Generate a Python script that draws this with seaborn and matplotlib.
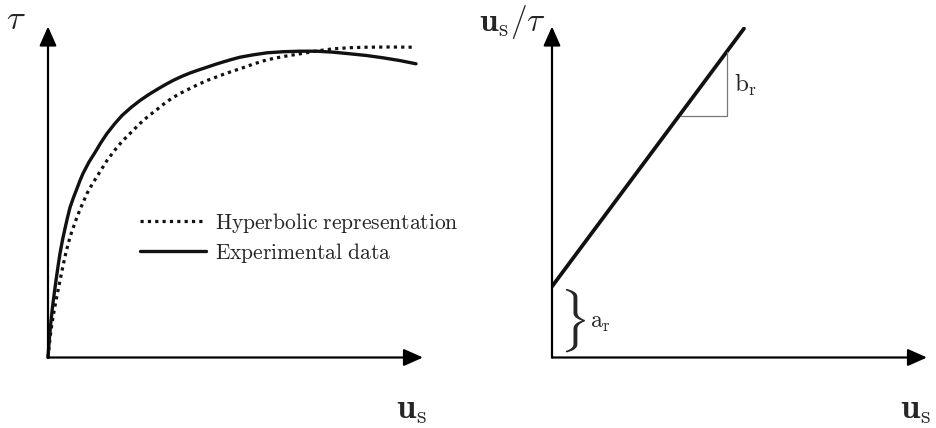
import matplotlib
matplotlib.use("Agg")
import matplotlib.pyplot as plt
import seaborn as sns

# Shear stress vs. slip, arbitrary units
exp_u = [0, 1, 2, 3, 4, 5, 6.5, 8, 10, 12, 14.5, 17, 19.5, 22, 25.5, 29, 32, 35,
         41, 47, 53, 59, 66.5, 74, 83, 92, 100.5, 109, 117, 125, 133.5, 142,
         150.5, 159, 167, 175, 183.5, 192, 205.5, 219, 235.5, 252, 269, 285.5,
         302, 318.5, 335, 351.5, 368]
exp_tau = [0, 14, 26, 36.5, 46, 54.5, 66, 77, 91, 104, 117.5, 129, 140, 150,
           160, 169, 177, 184, 195.5, 205, 215, 224, 233.5, 242, 250, 257,
           262.8, 268, 272.7, 277, 281, 284.5, 287.5, 290.3, 293, 295.5, 298,
           300.3, 302.7, 304.7, 305.8, 306.3, 306.3, 305.3, 303.7, 302, 299.7,
           297, 293.7]

hyp_u = [0, 1, 2, 3, 4, 5, 7, 9, 11, 13, 15.3, 17.5, 20, 22.5, 25.3, 28.5, 32,
         35.5, 39, 44, 49, 54, 59, 66.5, 74, 83, 92, 100.5, 109, 117, 125,
         133.5, 142, 150.5, 159, 167, 175, 183.5, 192, 205.5, 219, 235.5, 252,
         268.5, 285, 302, 319, 341, 364]
hyp_tau = [0, 10, 19, 27, 34, 40.5, 51.5, 62, 72, 82, 93, 103, 113, 122, 130,
           139, 148, 156, 164, 173, 181, 189, 197, 207, 216, 225, 234, 241.5,
           248, 254.5, 260, 264.8, 269, 273.2, 277, 280, 283, 286, 288.7,
           293.5, 297.7, 301, 303.7, 306.5, 308.7, 309.8, 310.3, 310.5, 310.3]

# Linearised form u_s / tau = a_r + b_r * u_s
lin_u = [0, 192]
lin_ratio = [71, 329]
a_r = 71
tri_u = [129, 174.7, 174.7]
tri_ratio = [242, 242, 305.3]

legend_labels = [r"$\mathrm{Hyperbolic\ representation}$",
                 r"$\mathrm{Experimental\ data}$"]

sns.set_theme(style="white")
plt.rcParams["mathtext.fontset"] = "cm"
plt.rcParams["font.family"] = ["DejaVu Serif"]

W, H = 936, 428
fig = plt.figure(figsize=(W / 100, H / 100), dpi=100)
fig.patch.set_facecolor("white")

XMAX, YMAX = 375, 331
axL = fig.add_axes([48 / W, (H - 357.5) / H, XMAX / W, YMAX / H])
axR = fig.add_axes([552 / W, (H - 357.5) / H, XMAX / W, YMAX / H])

arrow_kw = dict(arrowstyle="-|>,head_length=0.45,head_width=0.2",
                mutation_scale=26, lw=1.6, color="black",
                shrinkA=0, shrinkB=0)
for ax in (axL, axR):
    ax.set_xlim(0, XMAX)
    ax.set_ylim(0, YMAX)
    ax.axis("off")
    ax.annotate("", xy=(XMAX, 0), xytext=(0, 0), arrowprops=arrow_kw,
                annotation_clip=False)
    ax.annotate("", xy=(0, YMAX), xytext=(0, 0), arrowprops=arrow_kw,
                annotation_clip=False)

# Left: stress-slip curves
sns.lineplot(x=hyp_u, y=hyp_tau, ax=axL, color="#111111", lw=2.3,
             linestyle=(0, (1, 1.3)), dash_capstyle="butt",
             estimator=None, label=legend_labels[0])
sns.lineplot(x=exp_u, y=exp_tau, ax=axL, color="#111111", lw=2.4,
             estimator=None, label=legend_labels[1])
for ln in axL.get_lines():
    ln.set_clip_on(False)
axL.legend(loc="center left", bbox_to_anchor=(140 / W, 1 - 238 / H),
           bbox_transform=fig.transFigure, frameon=False, fontsize=15.5,
           handlelength=3.05, handletextpad=0.45, labelspacing=0.28,
           borderpad=0, borderaxespad=0)

# Right: linear transformation
sns.lineplot(x=lin_u, y=lin_ratio, ax=axR, color="#111111", lw=2.7,
             estimator=None)
sns.lineplot(x=tri_u, y=tri_ratio, ax=axR, color="#777777", lw=0.9,
             sort=False, estimator=None)
axR.text(7, a_r / 2 + 1, r"$\}$", fontsize=38, ha="left", va="center")
axR.text(38, a_r / 2 - 1, r"$\mathrm{a}_{\mathrm{r}}$", fontsize=17,
         ha="left", va="center")
axR.text(182, 273, r"$\mathrm{b}_{\mathrm{r}}$", fontsize=18,
         ha="left", va="center")

# Axis titles
fig.text(16 / W, 1 - 19 / H, r"$\tau$", fontsize=25, ha="center", va="center")
fig.text(479 / W, 1 - 22 / H, r"$\mathbf{u}_{\mathrm{s}}/\tau$", fontsize=24,
         ha="left", va="center")
fig.text(396 / W, 1 - 409 / H, r"$\mathbf{u}_{\mathrm{s}}$", fontsize=25,
         ha="left", va="center")
fig.text(900 / W, 1 - 409 / H, r"$\mathbf{u}_{\mathrm{s}}$", fontsize=25,
         ha="left", va="center")

fig.savefig("out.png", dpi=100, facecolor="white")
